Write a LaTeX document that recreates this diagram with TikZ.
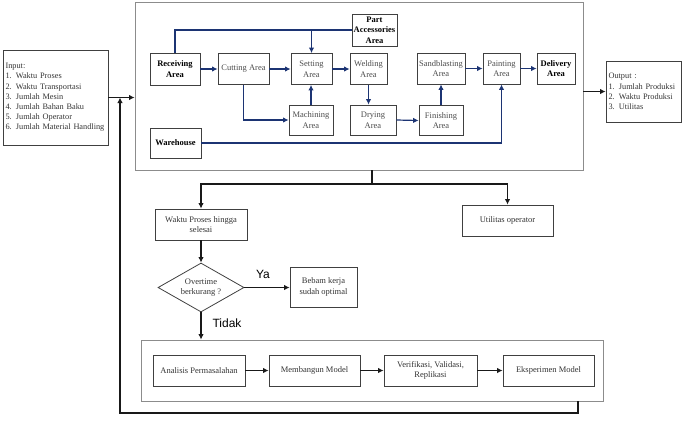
\documentclass[tikz,border=0pt]{standalone}
\usepackage{fontspec}
\setmainfont{Liberation Serif}
\newfontfamily\labelfont{Liberation Sans}
\usetikzlibrary{shapes.geometric,arrows.meta}
\definecolor{flowblue}{RGB}{28,52,115}
\begin{document}
\begin{tikzpicture}[x=1pt,y=-1pt]
          \tikzstyle{area}=[rectangle,draw=black!75,line width=0.8pt,text=black!70,align=center,inner sep=1pt,font=\fontsize{8.5}{10.5}\selectfont]
          \tikzstyle{keyarea}=[area,text=black,font=\fontsize{8.5}{10.5}\selectfont\bfseries]
          \tikzstyle{frame}=[rectangle,draw=black!45,line width=0.8pt,inner sep=0pt]
          \tikzstyle{stage}=[rectangle,draw=black!75,line width=0.8pt,text=black!80,align=center,inner sep=1pt,font=\fontsize{8.5}{10.5}\selectfont]
          \tikzstyle{flow}=[draw=flowblue,line width=1.2pt,-{Latex[length=5.5pt,width=5.5pt]}]
          \tikzstyle{link}=[draw=flowblue,line width=1.2pt]
          \tikzstyle{edge}=[draw=black!90,line width=1.2pt,-{Latex[length=5.5pt,width=5.5pt]}]
          \useasboundingbox (0,0) rectangle (687,440);
          % frames
          \node [frame,minimum width=448,minimum height=168] (plant) at (359,86) {};
          \node [frame,minimum width=462,minimum height=61] (method) at (372,370.5) {};
          % input / output
          \node [stage,align=left,text width=100,inner sep=2.5pt,minimum height=95,font=\fontsize{8.3}{10.2}\selectfont] (input) at (55.5,97.5)
             {Input:\\1. Waktu Proses\\2. Waktu Transportasi\\3. Jumlah Mesin\\4. Jumlah Bahan Baku\\5. Jumlah Operator\\6. Jumlah Material Handling};
          \node [stage,align=left,text width=70,inner sep=2.5pt,minimum height=61,font=\fontsize{8.3}{10.2}\selectfont] (output) at (643.5,91.5)
             {Output :\\1. Jumlah Produksi\\2. Waktu Produksi\\3. Utilitas};
          % production areas
          \node [keyarea,minimum width=50,minimum height=32] (receiving) at (175,69) {Receiving\\Area};
          \node [area,minimum width=51,minimum height=31] (cutting) at (243.5,69) {Cutting Area};
          \node [area,minimum width=41,minimum height=31] (setting) at (311.5,69) {Setting\\Area};
          \node [area,minimum width=37,minimum height=31] (welding) at (368.5,69) {Welding\\Area};
          \node [area,minimum width=48,minimum height=31] (sandblasting) at (441,68.5) {Sandblasting\\Area};
          \node [area,minimum width=37,minimum height=31] (painting) at (501.5,68.5) {Painting\\Area};
          \node [keyarea,minimum width=38,minimum height=31] (delivery) at (556,68.5) {Delivery\\Area};
          \node [keyarea,minimum width=45,minimum height=32] (parts) at (374.5,30) {Part\\Accessories\\Area};
          \node [area,minimum width=44,minimum height=30] (machining) at (311,120) {Machining\\Area};
          \node [area,minimum width=46,minimum height=30] (drying) at (373,120) {Drying\\Area};
          \node [area,minimum width=44,minimum height=30] (finishing) at (441,120.5) {Finishing\\Area};
          \node [keyarea,minimum width=51,minimum height=30] (warehouse) at (175.5,143) {Warehouse};
          % material flow
          \path[link] (receiving.north) |- (parts.west);
          \path[flow] (setting.north |- parts.west) -- (setting.north);
          \path[flow] (receiving.east) -- (cutting.west);
          \path[flow] (cutting.east) -- (setting.west);
          \path[flow] (cutting.south) |- (machining.west);
          \path[flow] (machining.north) -- (machining.north |- setting.south);
          \path[flow] (setting.east) -- (welding.west);
          \path[flow] (welding.south) -- (welding.south |- drying.north);
          \path[flow] (drying.east) -- (finishing.west);
          \path[flow] (finishing.north) -- (sandblasting.south);
          \path[flow] (sandblasting.east) -- (painting.west);
          \path[flow] (painting.east) -- (delivery.west);
          \path[flow] (warehouse.east) -| (painting.south);
          % results
          \node [stage,minimum width=92,minimum height=31] (waktu) at (201,224.5) {Waktu Proses hingga\\selesai};
          \node [stage,minimum width=91,minimum height=31] (utilitas) at (507.5,220.5) {Utilitas operator};
          \node [stage,diamond,aspect=1.75,inner sep=0pt,minimum width=86,minimum height=49] (decision) at (201,287.5) {Overtime\\berkurang ?};
          \node [stage,minimum width=67,minimum height=40] (optimal) at (323.5,287) {Bebam kerja\\sudah optimal};
          \node [font=\labelfont\fontsize{12}{12}\selectfont] (ya) at (263,274) {Ya};
          \node [font=\labelfont\fontsize{12}{12}\selectfont] (tidak) at (227,323) {Tidak};
          % model steps
          \node [stage,minimum width=92,minimum height=31] (analisis) at (199,370.5) {Analisis Permasalahan};
          \node [stage,minimum width=91,minimum height=31] (membangun) at (314.5,370.5) {Membangun Model};
          \node [stage,minimum width=93,minimum height=31] (verifikasi) at (430.5,370.5) {Verifikasi, Validasi,\\Replikasi};
          \node [stage,minimum width=91,minimum height=31] (eksperimen) at (548.5,370.5) {Eksperimen Model};
          % connectors
          \coordinate (join) at (120,97.5);
          \coordinate (split) at (372,184);
          \coordinate (back) at (578,413);
          \path[edge] (input.east) -- (input.east -| plant.west);
          \path[edge] (plant.east |- output.west) -- (output.west);
          \path[draw=black!90,line width=1.2pt] (split |- plant.south) -- (split);
          \path[edge] (split) -| (waktu.north);
          \path[edge] (split) -| (utilitas.north);
          \path[edge] (waktu.south) -- (decision.north);
          \path[edge] (decision.east) -- (decision.east -| optimal.west);
          \path[edge] (decision.south) -- (decision.south |- method.north);
          \path[edge] (analisis.east) -- (membangun.west);
          \path[edge] (membangun.east) -- (verifikasi.west);
          \path[edge] (verifikasi.east) -- (eksperimen.west);
          \path[edge] (back |- method.south) -- (back) -| (join);
        \end{tikzpicture}
\end{document}
